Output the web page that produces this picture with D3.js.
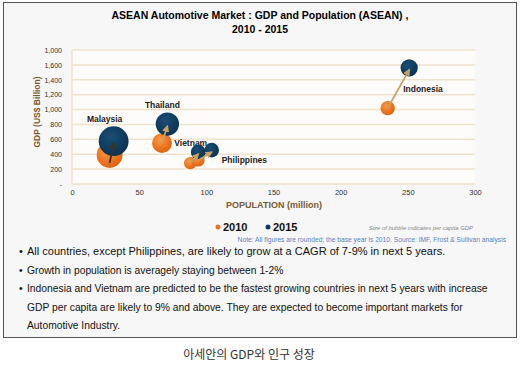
<!DOCTYPE html>
<html>
<head>
<meta charset="utf-8">
<script src="https://cdn.jsdelivr.net/npm/d3@7"></script>
<style>
  body { margin: 0; background: #fff; }
  svg { display: block; font-family: "Liberation Sans", Arial, sans-serif; }
</style>
</head>
<body>
<div id="chart_area"></div>
<script>
// data
var countries = ["Malaysia", "Thailand", "Vietnam", "Philippines", "Indonesia"];
var pop2010 = [28, 67, 88, 94, 235];
var gdp2010 = [390, 550, 280, 320, 1020];
var pop2015 = [31, 71, 94, 104, 251];
var gdp2015 = [575, 805, 430, 455, 1560];
var perCap2010 = [13.9, 8.2, 3.2, 3.4, 4.3];
var perCap2015 = [18.5, 11.3, 4.6, 4.4, 6.2];
var yTicks = [0, 200, 400, 600, 800, 1000, 1200, 1400, 1600, 1800];
var yTickLabels = ["-", "200", "400", "600", "800", "1,000", "1,200", "1,400", "1,600", "1,000"];
var xTicks = [0, 50, 100, 150, 200, 250, 300];
var years = ["2010", "2015"];
var bullets = [
  ["All countries, except Philippines, are likely to grow at a CAGR of 7-9% in next 5 years."],
  ["Growth in population is averagely staying between 1-2%"],
  ["Indonesia and Vietnam are predicted to be the fastest growing countries in next 5 years with increase",
   "GDP per capita are likely to 9% and above. They are expected to become important markets for",
   "Automotive Industry."]
];

var W = 520, H = 371;
var svg = d3.select("#chart_area").append("svg")
    .attr("width", W).attr("height", H);

var defs = svg.append("defs");
function radial(id, c0, c1, c2){
    var g = defs.append("radialGradient").attr("id", id)
        .attr("cx", "40%").attr("cy", "35%").attr("r", "70%");
    g.append("stop").attr("offset", "0%").attr("stop-color", c0);
    g.append("stop").attr("offset", "60%").attr("stop-color", c1);
    g.append("stop").attr("offset", "100%").attr("stop-color", c2);
}
radial("g2010", "#f79a4a", "#ec7420", "#d9620f");
radial("g2015", "#1d4d74", "#0f3d60", "#0b3150");

["tan", "dark"].forEach(function(k){
    defs.append("marker").attr("id", "arr-" + k)
        .attr("viewBox", "0 0 10 10").attr("refX", 8).attr("refY", 5)
        .attr("markerWidth", 4).attr("markerHeight", 4).attr("orient", "auto")
      .append("path").attr("d", "M0,0L10,5L0,10z")
        .attr("fill", k == "tan" ? "#c9a064" : "#3a3424");
});

// frame
svg.append("rect").attr("x", 3.5).attr("y", 2.5).attr("width", 513).attr("height", 335)
    .attr("fill", "#f7f7f7").attr("stroke", "#555").attr("stroke-width", 1);

// title
svg.append("text").attr("x", 260).attr("y", 19).attr("text-anchor", "middle")
    .attr("font-size", "10.5px").attr("font-weight", "bold")
    .text("ASEAN Automotive Market : GDP and Population (ASEAN) ,");
svg.append("text").attr("x", 260).attr("y", 33).attr("text-anchor", "middle")
    .attr("font-size", "10.5px").attr("font-weight", "bold")
    .text("2010 - 2015");

var x = d3.scaleLinear().domain([0, 300]).range([72, 475]);
var y = d3.scaleLinear().domain([0, 1800]).range([184, 50]);
var r = d3.scaleSqrt().domain([0, 20]).range([0, 15.5]);

// plot area
svg.append("rect").attr("x", x(0)).attr("y", y(1800)).attr("width", x(300) - x(0))
    .attr("height", y(0) - y(1800)).attr("fill", "#fdfcfa");

// gridlines
svg.append("g").selectAll("line").data(yTicks).enter().append("line")
    .attr("x1", x(0)).attr("x2", x(300))
    .attr("y1", function(d){ return y(d); }).attr("y2", function(d){ return y(d); })
    .attr("stroke", "#f0e2cc").attr("stroke-width", 1.5);
svg.append("line").attr("x1", x(0)).attr("x2", x(0)).attr("y1", y(1800)).attr("y2", y(0))
    .attr("stroke", "#f0e2cc").attr("stroke-width", 1.5);

// y axis
var yAxis = d3.axisLeft(y).tickValues(yTicks).tickSize(0).tickPadding(10)
    .tickFormat(function(d, i){ return yTickLabels[i]; });
var ya = svg.append("g").attr("transform", "translate(" + x(0) + ",0)").call(yAxis);
ya.select(".domain").remove();
ya.selectAll("text").attr("font-size", "7px").attr("fill", "#333")
    .attr("font-family", "Liberation Sans, Arial, sans-serif");

// x axis
var xAxis = d3.axisBottom(x).tickValues(xTicks).tickSize(0).tickPadding(6);
var xa = svg.append("g").attr("transform", "translate(0," + y(0) + ")").call(xAxis);
xa.select(".domain").remove();
xa.selectAll("text").attr("font-size", "7.5px").attr("fill", "#333")
    .attr("font-family", "Liberation Sans, Arial, sans-serif");

// axis titles
svg.append("text").attr("transform", "translate(40,112) rotate(-90)")
    .attr("text-anchor", "middle").attr("font-size", "8.5px").attr("font-weight", "bold")
    .attr("fill", "#7a5a30").text("GDP (US$ Billion)");
svg.append("text").attr("x", 274).attr("y", 208).attr("text-anchor", "middle")
    .attr("font-size", "9px").attr("font-weight", "bold")
    .attr("fill", "#7a5a30").text("POPULATION (million)");

// country labels
var labelPos = {
    Malaysia: [-9, -19, "middle"],
    Thailand: [-5, -16, "middle"],
    Vietnam: [-24, -6, "start"],
    Philippines: [10, 13, "start"],
    Indonesia: [-6, 24, "start"]
};
svg.append("g").selectAll("text").data(countries).enter().append("text")
    .attr("x", function(d, i){ return x(pop2015[i]) + labelPos[d][0]; })
    .attr("y", function(d, i){ return y(gdp2015[i]) + labelPos[d][1]; })
    .attr("text-anchor", function(d){ return labelPos[d][2]; })
    .attr("font-size", "8.5px").attr("font-weight", "bold").attr("fill", "#222")
    .text(function(d){ return d; });

// bubbles
svg.append("g").selectAll("circle").data(countries).enter().append("circle")
    .attr("cx", function(d, i){ return x(pop2010[i]); })
    .attr("cy", function(d, i){ return y(gdp2010[i]); })
    .attr("r", function(d, i){ return r(perCap2010[i]); })
    .attr("fill", "url(#g2010)");
svg.append("g").selectAll("circle").data(countries).enter().append("circle")
    .attr("cx", function(d, i){ return x(pop2015[i]); })
    .attr("cy", function(d, i){ return y(gdp2015[i]); })
    .attr("r", function(d, i){ return r(perCap2015[i]); })
    .attr("fill", "url(#g2015)");

// arrows 2010 -> 2015
svg.append("g").selectAll("line").data(countries).enter().append("line")
    .attr("x1", function(d, i){ return x(pop2010[i]); })
    .attr("y1", function(d, i){ return y(gdp2010[i]) + (d == "Malaysia" ? 8 : 0); })
    .attr("x2", function(d, i){ return x(pop2015[i]); })
    .attr("y2", function(d, i){ return y(gdp2015[i]) + 2; })
    .attr("stroke", function(d){ return d == "Malaysia" ? "#3a3424" : "#c9a064"; })
    .attr("stroke-width", 1.8)
    .attr("marker-end", function(d){ return d == "Malaysia" ? "url(#arr-dark)" : "url(#arr-tan)"; });

// legend
var legend = svg.append("g").selectAll("g").data(years).enter().append("g")
    .attr("transform", function(d, i){ return "translate(" + (218 + i * 50) + ",227)"; });
legend.append("circle").attr("r", 2.5)
    .attr("fill", function(d, i){ return i == 0 ? "#ec7420" : "#0f3d60"; });
legend.append("text").attr("x", 5).attr("y", 4).attr("font-size", "11px")
    .attr("font-weight", "bold").attr("fill", "#111").text(function(d){ return d; });

svg.append("text").attr("x", 473).attr("y", 230).attr("text-anchor", "end")
    .attr("font-size", "5.9px").attr("font-style", "italic").attr("fill", "#8a8a8a")
    .text("Size of bubble indicates per capita GDP");
svg.append("text").attr("x", 506).attr("y", 242).attr("text-anchor", "end")
    .attr("font-size", "6.7px").attr("fill", "#5b7fbf")
    .text("Note: All figures are rounded; the base year is 2010. Source: IMF, Frost & Sullivan analysis");

// bullets
var lineY = 255;
bullets.forEach(function(b, bi){
    var fs = bi == 0 ? "11px" : "10.3px";
    svg.append("text").attr("x", 19).attr("y", lineY).attr("font-size", fs)
        .attr("fill", "#111").text("\u2022");
    b.forEach(function(line){
        svg.append("text").attr("x", 27).attr("y", lineY).attr("font-size", fs)
            .attr("fill", "#111").text(line);
        lineY += 18.5;
    });
});

// caption
svg.append("text").attr("x", 249).attr("y", 359).attr("text-anchor", "middle")
    .attr("font-size", "12px").attr("fill", "#333")
    .attr("font-family", "'Noto Sans CJK KR', sans-serif")
    .text("아세안의 GDP와 인구 성장");
</script>
</body>
</html>
